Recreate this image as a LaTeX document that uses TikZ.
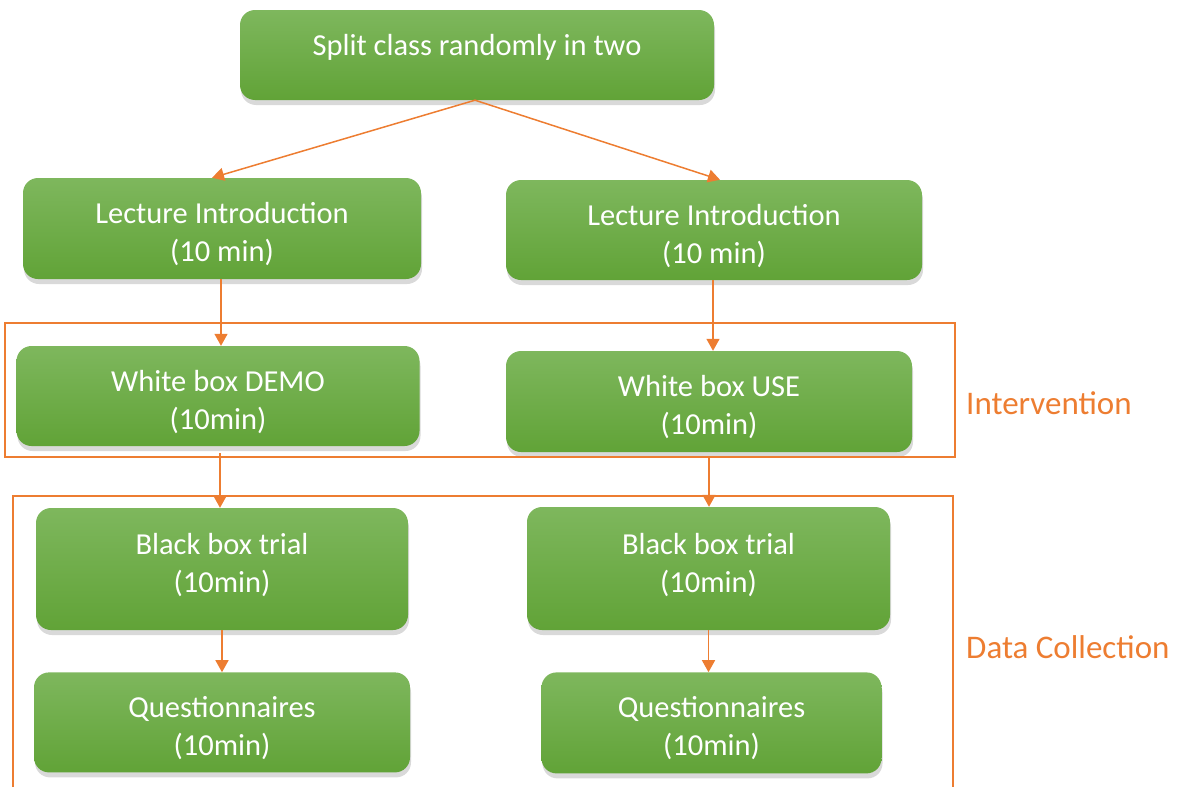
\documentclass[tikz,border=0pt]{standalone}
\usepackage{fontspec}
\setmainfont{Carlito}
\usetikzlibrary{positioning,arrows.meta,shadows}

\definecolor{stageTop}{RGB}{126,183,93}
\definecolor{stageBottom}{RGB}{97,163,55}
\definecolor{flowOrange}{RGB}{237,125,49}

\tikzset{
  stage/.style={rectangle, rounded corners=15pt, top color=stageTop, bottom color=stageBottom,
    text=white, align=center, inner sep=0pt, font=\fontsize{30.5}{38}\selectfont,
    text height=68pt, text depth=2pt,
    drop shadow={shadow xshift=1pt, shadow yshift=-5pt, opacity=0.3}},
  flow/.style={draw=flowOrange, line width=1.5pt, -{Triangle[width=13pt,length=12pt]}},
  phasebox/.style={draw=flowOrange, line width=1.5pt},
  phase/.style={text=flowOrange, anchor=west, inner sep=0pt, font=\fontsize{33}{38}\selectfont},
}

\begin{document}
\begin{tikzpicture}[x=1pt, y=-1pt]
    \useasboundingbox (0,0) rectangle (1188,787);

    % Nodes
    \node[stage, minimum width=474pt, minimum height=90pt, text height=28pt, text depth=28pt] (split) at (477,55) {Split class randomly in two};
    \node[stage, minimum width=398pt, minimum height=101pt] (introL) at (222,228.5) {Lecture Introduction\\(10 min)};
    \node[stage, minimum width=416pt, minimum height=100pt] (introR) at (714,230) {Lecture Introduction\\(10 min)};
    \node[stage, minimum width=403pt, minimum height=100pt] (whiteL) at (218,396) {White box DEMO\\(10min)};
    \node[stage, minimum width=406pt, minimum height=101pt] (whiteR) at (709,401.5) {White box USE\\(10min)};
    \node[stage, minimum width=372pt, minimum height=122pt, text height=60pt, text depth=13pt] (blackL) at (222,569) {Black box trial\\(10min)};
    \node[stage, minimum width=363pt, minimum height=123pt, text height=60pt, text depth=13pt] (blackR) at (708.5,568.5) {Black box trial\\(10min)};
    \node[stage, minimum width=376pt, minimum height=100pt, below=42pt of blackL] (questL) {Questionnaires\\(10min)};
    \node[stage, minimum width=340pt, minimum height=101pt, below=42pt of blackR, xshift=3pt] (questR) {Questionnaires\\(10min)};

    % Phases
    \draw[phasebox] (5,323) rectangle (955,457);
    \draw[phasebox] (13,787) -- (13,496) -- (953,496) -- (953,787);
    \node[phase] (intervention) at (966,403) {Intervention};
    \node[phase] (collection) at (966,647) {Data Collection};

    % Edges
    \draw[flow] ([xshift=-2pt]split.south) -- ([xshift=-10pt]introL.north);
    \draw[flow] ([xshift=-2pt]split.south) -- ([xshift=6pt]introR.north);
    \draw[flow] ([xshift=-1pt]introL.south) -- ([xshift=-1pt]introL.south |- whiteL.north);
    \draw[flow] ([xshift=-1pt]introR.south) -- ([xshift=-1pt]introR.south |- whiteR.north);
    \draw[flow, shorten <=7pt] ([xshift=-2pt]blackL.north |- whiteL.south) -- ([xshift=-2pt]blackL.north);
    \draw[flow, shorten <=4pt] (whiteR.south) -- (whiteR.south |- blackR.north);
    \draw[flow] (blackL.south) -- (questL.north);
    \draw[flow] (blackR.south) -- (blackR.south |- questR.north);
\end{tikzpicture}
\end{document}
